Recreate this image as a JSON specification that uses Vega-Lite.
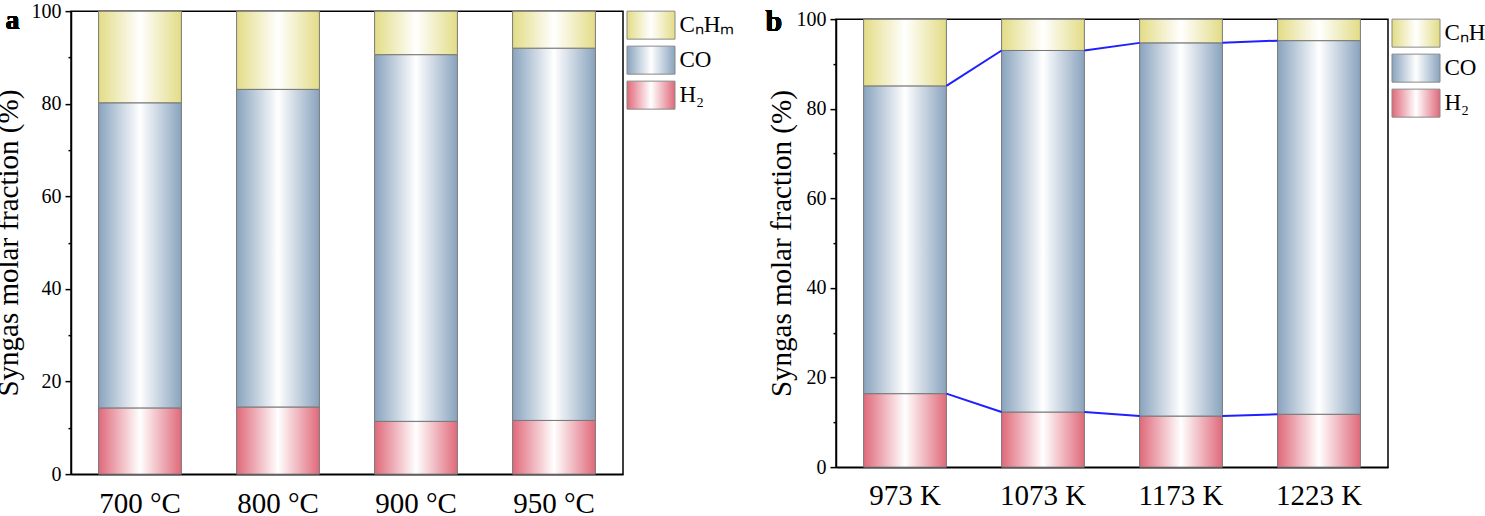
{
  "$schema": "https://vega.github.io/schema/vega-lite/v6.json",
  "description": "Syngas molar fraction by temperature, panels a and b",
  "background": "#ffffff",
  "padding": {"left": -7, "top": 0, "right": 0, "bottom": 0},
  "datasets": {
    "a": [
      {"temp": 700, "cat": "700 °C", "gas": "H2", "order": 1, "value": 14.3},
      {"temp": 700, "cat": "700 °C", "gas": "CO", "order": 2, "value": 65.9},
      {"temp": 700, "cat": "700 °C", "gas": "CnHm", "order": 3, "value": 19.8},
      {"temp": 800, "cat": "800 °C", "gas": "H2", "order": 1, "value": 14.5},
      {"temp": 800, "cat": "800 °C", "gas": "CO", "order": 2, "value": 68.6},
      {"temp": 800, "cat": "800 °C", "gas": "CnHm", "order": 3, "value": 16.9},
      {"temp": 900, "cat": "900 °C", "gas": "H2", "order": 1, "value": 11.4},
      {"temp": 900, "cat": "900 °C", "gas": "CO", "order": 2, "value": 79.2},
      {"temp": 900, "cat": "900 °C", "gas": "CnHm", "order": 3, "value": 9.4},
      {"temp": 950, "cat": "950 °C", "gas": "H2", "order": 1, "value": 11.6},
      {"temp": 950, "cat": "950 °C", "gas": "CO", "order": 2, "value": 80.4},
      {"temp": 950, "cat": "950 °C", "gas": "CnHm", "order": 3, "value": 8.0}
    ],
    "b": [
      {"temp": 973, "cat": "973 K", "gas": "H2", "order": 1, "value": 16.4},
      {"temp": 973, "cat": "973 K", "gas": "CO", "order": 2, "value": 68.7},
      {"temp": 973, "cat": "973 K", "gas": "CnHm", "order": 3, "value": 14.9},
      {"temp": 1073, "cat": "1073 K", "gas": "H2", "order": 1, "value": 12.3},
      {"temp": 1073, "cat": "1073 K", "gas": "CO", "order": 2, "value": 80.7},
      {"temp": 1073, "cat": "1073 K", "gas": "CnHm", "order": 3, "value": 7.0},
      {"temp": 1173, "cat": "1173 K", "gas": "H2", "order": 1, "value": 11.4},
      {"temp": 1173, "cat": "1173 K", "gas": "CO", "order": 2, "value": 83.3},
      {"temp": 1173, "cat": "1173 K", "gas": "CnHm", "order": 3, "value": 5.3},
      {"temp": 1223, "cat": "1223 K", "gas": "H2", "order": 1, "value": 11.8},
      {"temp": 1223, "cat": "1223 K", "gas": "CO", "order": 2, "value": 83.4},
      {"temp": 1223, "cat": "1223 K", "gas": "CnHm", "order": 3, "value": 4.8}
    ],
    "keys": [
      {"gas": "CnHm", "label": "CₙHₘ"},
      {"gas": "CO", "label": "CO"},
      {"gas": "H2", "label": "H₂"}
    ]
  },
  "hconcat": [
    {
      "bounds": "flush",
      "spacing": 4,
      "hconcat": [
        {
          "width": 552,
          "height": 463,
          "data": {"name": "a"},
          "transform": [
            {"stack": "value", "groupby": ["cat"], "sort": [{"field": "order"}], "as": ["lo", "hi"]}
          ],
          "layer": [
            {
              "mark": {"type": "bar", "stroke": "#777777", "strokeWidth": 1},
              "encoding": {
                "x": {
                  "field": "cat", "type": "nominal",
                  "scale": {"domain": ["700 °C", "800 °C", "900 °C", "950 °C"], "paddingInner": 0.4, "paddingOuter": 0.2},
                  "axis": {"title": null, "ticks": false, "bandPosition": 0.5, "labelAngle": 0, "labelFontSize": 29, "labelPadding": 15}
                },
                "y": {
                  "field": "lo", "type": "quantitative",
                  "scale": {"domain": [0, 100], "nice": false},
                  "axis": {
                    "title": "Syngas molar fraction (%)", "titleFontSize": 29, "titlePadding": 8,
                    "values": [0, 10, 20, 30, 40, 50, 60, 70, 80, 90, 100],
                    "labelExpr": "datum.value % 20 == 0 ? datum.label : ''",
                    "tickSize": {"condition": {"test": "datum.value % 20 != 0", "value": 3}, "value": 6},
                    "labelFontSize": 20, "labelPadding": 4
                  }
                },
                "y2": {"field": "hi"},
                "fill": {
                  "condition": [
                    {"test": "datum.gas === 'H2'", "value": {"gradient": "linear", "x1": 0, "y1": 0, "x2": 1, "y2": 0, "stops": [{"offset": 0, "color": "#e0697a"}, {"offset": 0.5, "color": "#ffffff"}, {"offset": 1, "color": "#e0697a"}]}},
                    {"test": "datum.gas === 'CO'", "value": {"gradient": "linear", "x1": 0, "y1": 0, "x2": 1, "y2": 0, "stops": [{"offset": 0, "color": "#89a3be"}, {"offset": 0.5, "color": "#ffffff"}, {"offset": 1, "color": "#89a3be"}]}}
                  ],
                  "value": {"gradient": "linear", "x1": 0, "y1": 0, "x2": 1, "y2": 0, "stops": [{"offset": 0, "color": "#e3dc86"}, {"offset": 0.5, "color": "#ffffff"}, {"offset": 1, "color": "#e3dc86"}]}
                }
              }
            },
            {
              "mark": {"type": "text", "text": "a", "align": "left", "baseline": "alphabetic", "fontSize": 28, "fontWeight": "bold", "dx": -93, "dy": 18, "color": "#000000"},
              "encoding": {
                "x": {"datum": "700 °C", "bandPosition": 0},
                "y": {"datum": 100}
              }
            }
          ]
        },
        {
          "width": 48,
          "height": 98,
          "view": {"stroke": null},
          "data": {"name": "keys"},
          "mark": {"type": "bar", "stroke": "#888888", "strokeWidth": 1},
          "encoding": {
            "y": {
              "field": "label", "type": "nominal",
              "scale": {"domain": ["CₙHₘ", "CO", "H₂"], "paddingInner": 0.2, "paddingOuter": 0},
              "axis": {"orient": "right", "title": null, "ticks": false, "domain": false, "labelFontSize": 23, "labelPadding": 4}
            },
            "x": {"datum": 0, "type": "quantitative", "scale": {"domain": [0, 1]}, "axis": null},
            "x2": {"datum": 1},
            "fill": {
              "condition": [
                {"test": "datum.gas === 'H2'", "value": {"gradient": "linear", "x1": 0, "y1": 0, "x2": 1, "y2": 0, "stops": [{"offset": 0, "color": "#e0697a"}, {"offset": 0.5, "color": "#ffffff"}, {"offset": 1, "color": "#e0697a"}]}},
                {"test": "datum.gas === 'CO'", "value": {"gradient": "linear", "x1": 0, "y1": 0, "x2": 1, "y2": 0, "stops": [{"offset": 0, "color": "#89a3be"}, {"offset": 0.5, "color": "#ffffff"}, {"offset": 1, "color": "#89a3be"}]}}
              ],
              "value": {"gradient": "linear", "x1": 0, "y1": 0, "x2": 1, "y2": 0, "stops": [{"offset": 0, "color": "#e3dc86"}, {"offset": 0.5, "color": "#ffffff"}, {"offset": 1, "color": "#e3dc86"}]}
            }
          }
        }
      ]
    },
    {
      "bounds": "flush",
      "spacing": 4,
      "hconcat": [
        {
          "width": 552,
          "height": 448,
          "data": {"name": "b"},
          "transform": [
            {"stack": "value", "groupby": ["cat"], "sort": [{"field": "order"}], "as": ["lo", "hi"]}
          ],
          "layer": [
            {
              "mark": {"type": "bar", "stroke": "#777777", "strokeWidth": 1},
              "encoding": {
                "x": {
                  "field": "cat", "type": "nominal",
                  "scale": {"domain": ["973 K", "1073 K", "1173 K", "1223 K"], "paddingInner": 0.4, "paddingOuter": 0.2},
                  "axis": {"title": null, "ticks": false, "bandPosition": 0.5, "labelAngle": 0, "labelFontSize": 29, "labelPadding": 14}
                },
                "y": {
                  "field": "lo", "type": "quantitative",
                  "scale": {"domain": [0, 100], "nice": false},
                  "axis": {
                    "title": "Syngas molar fraction (%)", "titleFontSize": 29, "titlePadding": 0,
                    "values": [0, 10, 20, 30, 40, 50, 60, 70, 80, 90, 100],
                    "labelExpr": "datum.value % 20 == 0 ? datum.label : ''",
                    "tickSize": {"condition": {"test": "datum.value % 20 != 0", "value": 3}, "value": 6},
                    "labelFontSize": 20, "labelPadding": 4
                  }
                },
                "y2": {"field": "hi"},
                "fill": {
                  "condition": [
                    {"test": "datum.gas === 'H2'", "value": {"gradient": "linear", "x1": 0, "y1": 0, "x2": 1, "y2": 0, "stops": [{"offset": 0, "color": "#e0697a"}, {"offset": 0.5, "color": "#ffffff"}, {"offset": 1, "color": "#e0697a"}]}},
                    {"test": "datum.gas === 'CO'", "value": {"gradient": "linear", "x1": 0, "y1": 0, "x2": 1, "y2": 0, "stops": [{"offset": 0, "color": "#89a3be"}, {"offset": 0.5, "color": "#ffffff"}, {"offset": 1, "color": "#89a3be"}]}}
                  ],
                  "value": {"gradient": "linear", "x1": 0, "y1": 0, "x2": 1, "y2": 0, "stops": [{"offset": 0, "color": "#e3dc86"}, {"offset": 0.5, "color": "#ffffff"}, {"offset": 1, "color": "#e3dc86"}]}
                }
              }
            },
            {
              "transform": [
                {"filter": "datum.gas !== 'CnHm'"},
                {"window": [{"op": "lead", "field": "cat", "as": "nextCat"}, {"op": "lead", "field": "hi", "as": "nextHi"}], "groupby": ["gas"], "sort": [{"field": "temp"}]},
                {"filter": "datum.nextCat != null"}
              ],
              "mark": {"type": "rule", "color": "#1f1fff", "strokeWidth": 2},
              "encoding": {
                "x": {
                  "field": "cat", "type": "nominal", "bandPosition": 1,
                  "scale": {"domain": ["973 K", "1073 K", "1173 K", "1223 K"], "paddingInner": 0.4, "paddingOuter": 0.2},
                  "axis": {"title": null, "ticks": false, "bandPosition": 0.5, "labelAngle": 0, "labelFontSize": 29, "labelPadding": 14}
                },
                "x2": {"field": "nextCat", "bandPosition": 0},
                "y": {
                  "field": "hi", "type": "quantitative",
                  "scale": {"domain": [0, 100], "nice": false},
                  "axis": {
                    "title": "Syngas molar fraction (%)", "titleFontSize": 29, "titlePadding": 0,
                    "values": [0, 10, 20, 30, 40, 50, 60, 70, 80, 90, 100],
                    "labelExpr": "datum.value % 20 == 0 ? datum.label : ''",
                    "tickSize": {"condition": {"test": "datum.value % 20 != 0", "value": 3}, "value": 6},
                    "labelFontSize": 20, "labelPadding": 4
                  }
                },
                "y2": {"field": "nextHi"}
              }
            },
            {
              "mark": {"type": "text", "text": "b", "align": "left", "baseline": "alphabetic", "fontSize": 30, "fontWeight": "bold", "dx": -98, "dy": 12, "color": "#000000"},
              "encoding": {
                "x": {"datum": "973 K", "bandPosition": 0},
                "y": {"datum": 100}
              }
            }
          ]
        },
        {
          "width": 48,
          "height": 98,
          "view": {"stroke": null},
          "data": {"name": "keys"},
          "mark": {"type": "bar", "stroke": "#888888", "strokeWidth": 1},
          "encoding": {
            "y": {
              "field": "label", "type": "nominal",
              "scale": {"domain": ["CₙHₘ", "CO", "H₂"], "paddingInner": 0.2, "paddingOuter": 0},
              "axis": {"orient": "right", "title": null, "ticks": false, "domain": false, "labelFontSize": 23, "labelPadding": 4}
            },
            "x": {"datum": 0, "type": "quantitative", "scale": {"domain": [0, 1]}, "axis": null},
            "x2": {"datum": 1},
            "fill": {
              "condition": [
                {"test": "datum.gas === 'H2'", "value": {"gradient": "linear", "x1": 0, "y1": 0, "x2": 1, "y2": 0, "stops": [{"offset": 0, "color": "#e0697a"}, {"offset": 0.5, "color": "#ffffff"}, {"offset": 1, "color": "#e0697a"}]}},
                {"test": "datum.gas === 'CO'", "value": {"gradient": "linear", "x1": 0, "y1": 0, "x2": 1, "y2": 0, "stops": [{"offset": 0, "color": "#89a3be"}, {"offset": 0.5, "color": "#ffffff"}, {"offset": 1, "color": "#89a3be"}]}}
              ],
              "value": {"gradient": "linear", "x1": 0, "y1": 0, "x2": 1, "y2": 0, "stops": [{"offset": 0, "color": "#e3dc86"}, {"offset": 0.5, "color": "#ffffff"}, {"offset": 1, "color": "#e3dc86"}]}
            }
          }
        }
      ]
    }
  ],
  "spacing": 30,
  "center": true,
  "config": {
    "font": "Liberation Serif",
    "view": {"stroke": "#000000", "strokeWidth": 1.5},
    "axis": {
      "labelFont": "Liberation Serif", "titleFont": "Liberation Serif",
      "labelColor": "#000000", "titleColor": "#000000", "titleFontWeight": "normal",
      "domainColor": "#000000", "domainWidth": 1.5, "tickColor": "#000000", "tickWidth": 1.5,
      "grid": false
    },
    "title": {"font": "Liberation Serif", "color": "#000000"}
  }
}
